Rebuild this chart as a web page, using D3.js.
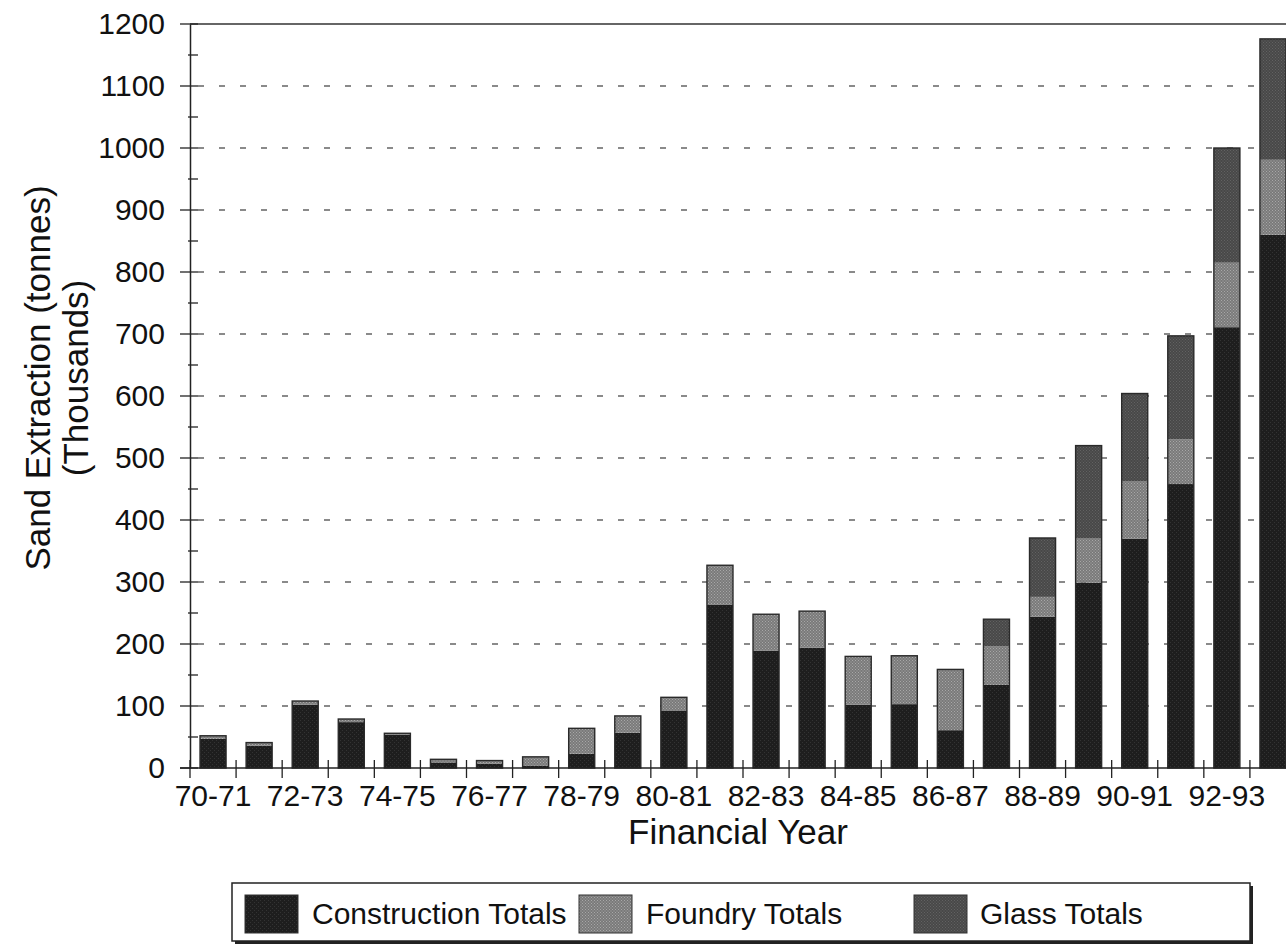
<!DOCTYPE html>
<html>
<head>
<meta charset="utf-8">
<script src="https://cdn.jsdelivr.net/npm/d3@7"></script>
<style>
  html, body { margin: 0; padding: 0; background: #ffffff; }
  svg { display: block; }
  text { font-family: "Liberation Sans", Arial, Helvetica, sans-serif; fill: #111; }
</style>
</head>
<body>
<svg id="chart" width="1286" height="944"></svg>
<script>
// ---- data (thousand tonnes) ----
const years = ["70-71","71-72","72-73","73-74","74-75","75-76","76-77","77-78","78-79","79-80",
               "80-81","81-82","82-83","83-84","84-85","85-86","86-87","87-88","88-89","89-90",
               "90-91","91-92","92-93","93-94"];
const construction = [47, 36, 102, 74, 54, 9, 7, 4, 23, 57, 92, 263, 189, 194, 102, 103, 61, 134, 244, 299, 370, 458, 711, 860];
const foundry      = [5, 5, 6, 5, 2, 5, 5, 14, 41, 27, 22, 64, 59, 59, 78, 78, 98, 62, 32, 71, 92, 72, 104, 121];
const glass        = [0, 0, 0, 0, 0, 0, 0, 0, 0, 0, 0, 0, 0, 0, 0, 0, 0, 44, 95, 150, 142, 167, 185, 195];
const seriesNames  = ["Construction Totals", "Foundry Totals", "Glass Totals"];
const xTickLabels  = ["70-71","72-73","74-75","76-77","78-79","80-81","82-83","84-85","86-87","88-89","90-91","92-93"];
const yTicks       = [0,100,200,300,400,500,600,700,800,900,1000,1100,1200];
const yMinorTicks  = [50,150,250,350,450,550,650,750,850,950,1050,1150];
const xTitle = "Financial Year";
const yTitle1 = "Sand Extraction (tonnes)";
const yTitle2 = "(Thousands)";

const svg = d3.select("#chart");
const plot = { left: 190, right: 1296, top: 24, bottom: 768 };

const x = d3.scaleBand().domain(years).range([plot.left, plot.right]).padding(0);
const y = d3.scaleLinear().domain([0, 1200]).range([plot.bottom, plot.top]);
const barW = x.bandwidth() * 0.565;

const rows = years.map((yr, i) => ({
  year: yr,
  "Construction Totals": construction[i],
  "Foundry Totals": foundry[i],
  "Glass Totals": glass[i]
}));
const stack = d3.stack().keys(seriesNames)(rows);

// defs: stipple patterns imitating the printed fills
const defs = svg.append("defs");
function stipple(id, base, dot, size) {
  const p = defs.append("pattern").attr("id", id).attr("patternUnits", "userSpaceOnUse")
    .attr("width", size).attr("height", size);
  p.append("rect").attr("width", size).attr("height", size).attr("fill", base);
  p.append("rect").attr("x", 0).attr("y", 0).attr("width", 1).attr("height", 1).attr("fill", dot);
  p.append("rect").attr("x", size / 2).attr("y", size / 2).attr("width", 1).attr("height", 1).attr("fill", dot);
}
stipple("pat-con", "#1e1e1e", "#333333", 4);
stipple("pat-fou", "#7a7a7a", "#a8a8a8", 3);
stipple("pat-gla", "#484848", "#626262", 3);
const fills = { "Construction Totals": "url(#pat-con)", "Foundry Totals": "url(#pat-fou)", "Glass Totals": "url(#pat-gla)" };

// gridlines (dashed)
svg.append("g").selectAll("line").data(yTicks.filter(v => v > 0 && v < 1200)).join("line")
  .attr("x1", plot.left + 8).attr("x2", 1286)
  .attr("y1", d => y(d)).attr("y2", d => y(d))
  .attr("stroke", "#8a8a8a").attr("stroke-width", 1.8).attr("stroke-dasharray", "6,15");

// top border
svg.append("line").attr("x1", plot.left).attr("x2", 1286).attr("y1", y(1200)).attr("y2", y(1200))
  .attr("stroke", "#333").attr("stroke-width", 1.5);

// bars
const gBars = svg.append("g");
stack.forEach(layer => {
  gBars.append("g").selectAll("rect").data(layer).join("rect")
    .attr("x", d => x(d.data.year) + (x.bandwidth() - barW) / 2)
    .attr("width", barW)
    .attr("y", d => y(d[1]))
    .attr("height", d => Math.max(0, y(d[0]) - y(d[1])))
    .attr("fill", fills[layer.key]);
});
const total = d => d["Construction Totals"] + d["Foundry Totals"] + d["Glass Totals"];
gBars.append("g").selectAll("rect").data(rows).join("rect")
  .attr("x", d => x(d.year) + (x.bandwidth() - barW) / 2)
  .attr("width", barW)
  .attr("y", d => y(total(d)))
  .attr("height", d => y(0) - y(total(d)))
  .attr("fill", "none").attr("stroke", "#2a2a2a").attr("stroke-width", 1.4);

// y axis
const yAxis = d3.axisLeft(y).tickValues(yTicks).tickFormat(d3.format("d")).tickSize(0).tickPadding(25);
const gy = svg.append("g").attr("transform", `translate(${plot.left},0)`).call(yAxis);
gy.select(".domain").attr("stroke", "#222").attr("stroke-width", 1.5);
gy.selectAll(".tick text").attr("font-size", 30).attr("fill", "#111")
  .style("font-family", '"Liberation Sans", Arial, sans-serif');
svg.append("g").selectAll("line").data(yTicks).join("line")
  .attr("x1", plot.left - 10).attr("x2", plot.left + 8)
  .attr("y1", d => y(d)).attr("y2", d => y(d)).attr("stroke", "#222").attr("stroke-width", 1.3);
svg.append("g").selectAll("line").data(yMinorTicks).join("line")
  .attr("x1", plot.left - 2).attr("x2", plot.left + 8)
  .attr("y1", d => y(d)).attr("y2", d => y(d)).attr("stroke", "#222").attr("stroke-width", 1.3);

// x axis
svg.append("line").attr("x1", plot.left - 10).attr("x2", 1286).attr("y1", y(0)).attr("y2", y(0))
  .attr("stroke", "#222").attr("stroke-width", 1.5);
svg.append("g").selectAll("line").data(years).join("line")
  .attr("x1", d => x(d)).attr("x2", d => x(d))
  .attr("y1", y(0) - 8).attr("y2", y(0) + 10)
  .attr("stroke", "#222").attr("stroke-width", 1.3);
svg.append("g").selectAll("text").data(xTickLabels).join("text")
  .attr("x", d => x(d) + x.bandwidth() / 2)
  .attr("y", y(0) + 38)
  .attr("text-anchor", "middle").attr("font-size", 30)
  .text(d => d);

// axis titles
svg.append("text").attr("x", 738).attr("y", 844).attr("text-anchor", "middle")
  .attr("font-size", 35).text(xTitle);
svg.append("text").attr("transform", "translate(50,378) rotate(-90)").attr("text-anchor", "middle")
  .attr("font-size", 35).text(yTitle1);
svg.append("text").attr("transform", "translate(88,378) rotate(-90)").attr("text-anchor", "middle")
  .attr("font-size", 35).text(yTitle2);

// legend
const lg = svg.append("g");
lg.append("rect").attr("x", 235).attr("y", 886).attr("width", 1018).attr("height", 58).attr("fill", "#222");
lg.append("rect").attr("x", 232).attr("y", 883).attr("width", 1018).attr("height", 58)
  .attr("fill", "#fff").attr("stroke", "#222").attr("stroke-width", 1.5);
const legendItems = [
  { name: seriesNames[0], sx: 245, tx: 312 },
  { name: seriesNames[1], sx: 579, tx: 646 },
  { name: seriesNames[2], sx: 914, tx: 980 }
];
legendItems.forEach(it => {
  lg.append("rect").attr("x", it.sx).attr("y", 895).attr("width", 53).attr("height", 38)
    .attr("fill", fills[it.name]).attr("stroke", "#333").attr("stroke-width", 1);
  lg.append("text").attr("x", it.tx).attr("y", 924).attr("font-size", 30).text(it.name);
});
</script>
</body>
</html>
